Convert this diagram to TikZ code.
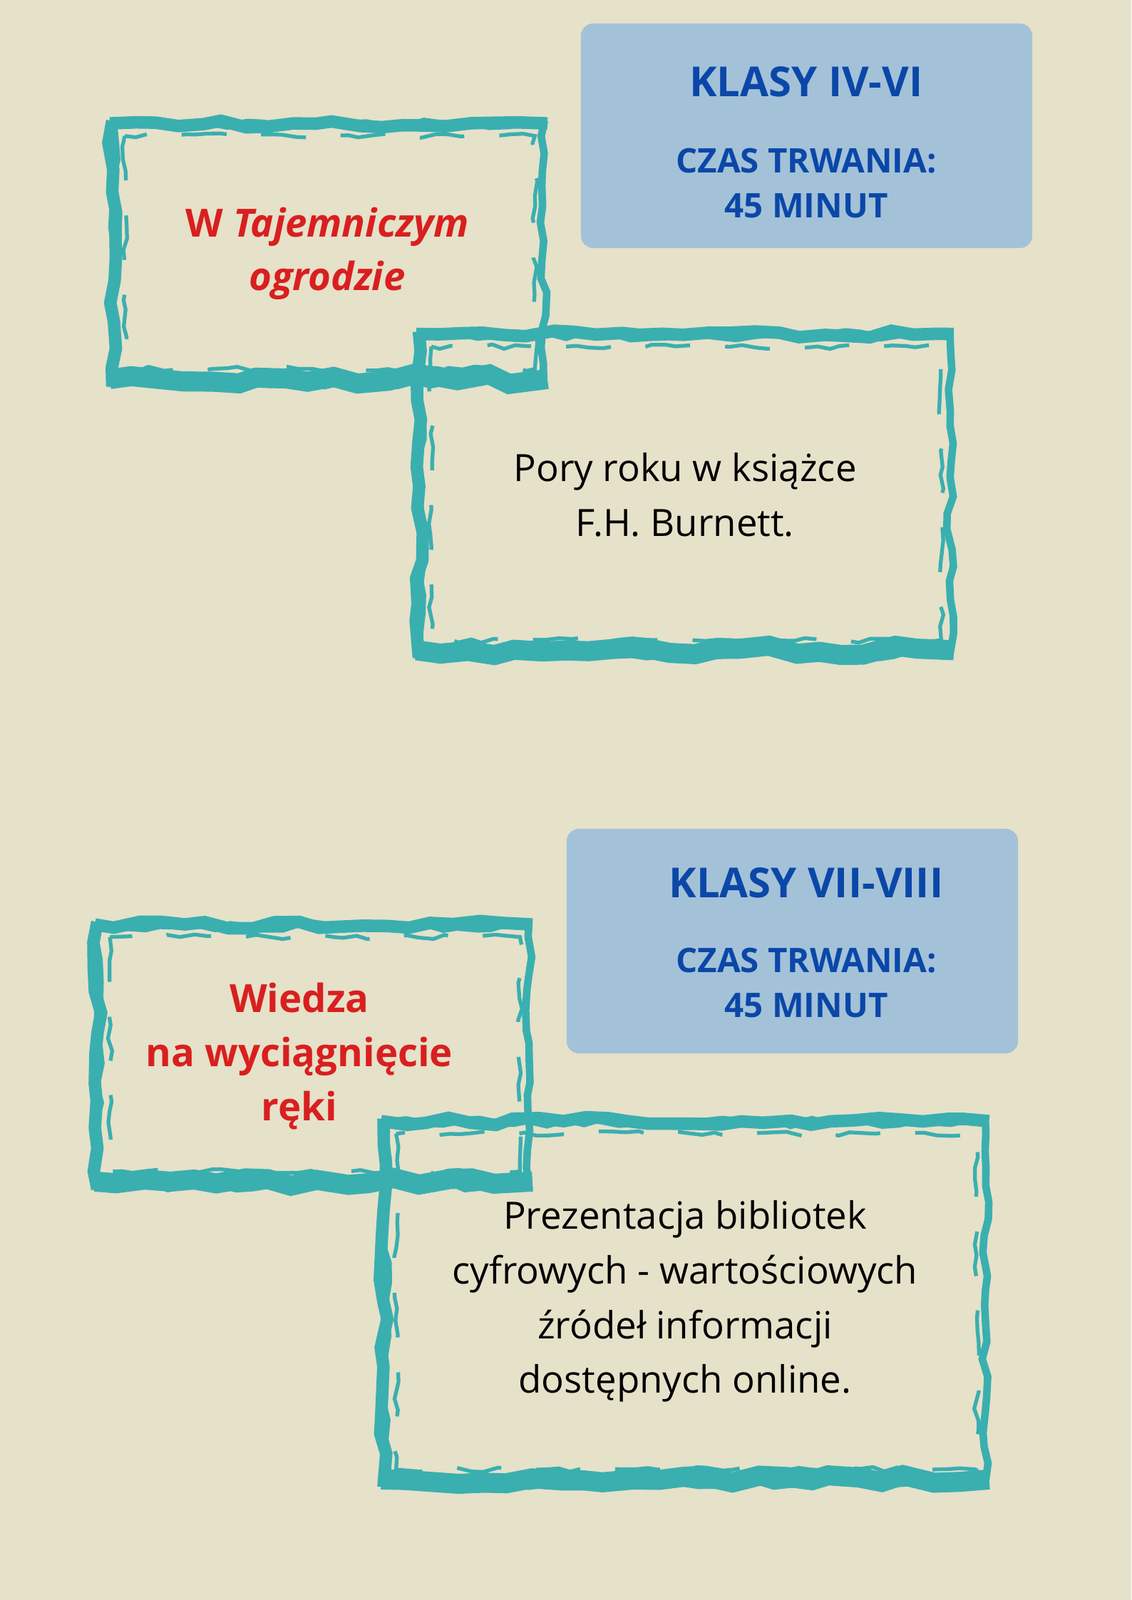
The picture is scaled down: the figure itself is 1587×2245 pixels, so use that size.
\documentclass[tikz,border=0pt]{standalone}
\usepackage{fontspec}
\setmainfont{Open Sans}
\usetikzlibrary{positioning,decorations.pathmorphing}
\definecolor{tlo}{HTML}{E6E1C9}
\definecolor{niebieski}{HTML}{A3C2D8}
\definecolor{granat}{HTML}{0B47A8}
\definecolor{czerwony}{HTML}{D91F1F}
\definecolor{morski}{HTML}{3AAFB0}
\tikzset{
  info node/.style={fill=niebieski, rounded corners=5pt, minimum width=6.33cm, minimum height=3.15cm},
  klasy node/.style={text=granat, font=\bfseries\fontsize{16.5}{20}\selectfont},
  czas node/.style={text=granat, font=\bfseries\fontsize{13.5}{18}\selectfont, align=center},
  brush frame/.style={draw=morski, line width=3pt, decorate, decoration={random steps, segment length=7pt, amplitude=1.4pt}},
  brush side/.style={draw=morski, line width=5pt, decorate, decoration={random steps, segment length=9pt, amplitude=1.6pt}},
  brush band/.style={draw=morski, line width=8pt, decorate, decoration={random steps, segment length=10pt, amplitude=2pt}},
  brush inner/.style={draw=morski, line width=1.5pt, dash pattern=on 18pt off 14pt, decorate, decoration={random steps, segment length=5pt, amplitude=1pt}},
  title node/.style={text=czerwony, font=\bfseries\fontsize{15.5}{21.5}\selectfont, align=center},
  desc node/.style={text=black, font=\fontsize{15}{21.8}\selectfont, align=center},
}

\begin{document}
\begin{tikzpicture}[x=0.01cm, y=-0.01cm]
        \fill[tlo] (0,0) rectangle (1587,2245);
        \useasboundingbox (0,0) rectangle (1587,2245);
        % Frames
        \node[brush frame, minimum width=6.03cm, minimum height=3.62cm] (ramka1) at (461,356) {};
        \node[brush frame, minimum width=7.43cm, minimum height=4.47cm] (ramka2) at (961,694) {};
        \node[brush frame, minimum width=6.03cm, minimum height=3.64cm] (ramka3) at (440,1481) {};
        \node[brush frame, minimum width=8.42cm, minimum height=5.06cm] (ramka4) at (961,1828) {};
        \foreach \r in {ramka1,ramka2,ramka3,ramka4} {
          \draw[brush band] ([yshift=3pt]\r.south west) -- ([yshift=3pt]\r.south east);
          \draw[brush side] ([xshift=1pt]\r.north west) -- ([xshift=1pt]\r.south west);
          \draw[brush side] ([yshift=-1pt]\r.north west) -- ([yshift=-1pt]\r.north east);
          \draw[brush inner] ([shift={(6pt,-6pt)}]\r.north west) rectangle ([shift={(-5pt,7pt)}]\r.south east);
        }
        % Klasy IV-VI
        \node[info node] (box1) at (1131.5,190.5) {};
        \node[klasy node] (klasy1) at (1131,115) {KLASY IV-VI};
        \node[czas node] (czas1) at (1131,257) {CZAS TRWANIA:\\45 MINUT};
        \node[title node] (tytul1) at (459,356) {W \textit{Tajemniczym}\\\textit{ogrodzie}};
        \node[desc node] (opis1) at (961,694) {Pory roku w książce\\F.H. Burnett.};
        % Klasy VII-VIII
        \node[info node] (box2) at (1111.5,1320.5) {};
        \node[klasy node] (klasy2) at (1131,1239) {KLASY VII-VIII};
        \node[czas node] (czas2) at (1131,1379) {CZAS TRWANIA:\\45 MINUT};
        \node[title node] (tytul2) at (420,1482) {Wiedza\\na wyciągnięcie\\ręki};
        \node[desc node] (opis2) at (961,1826) {Prezentacja bibliotek\\cyfrowych - wartościowych\\źródeł informacji\\dostępnych online.};
\end{tikzpicture}
\end{document}
